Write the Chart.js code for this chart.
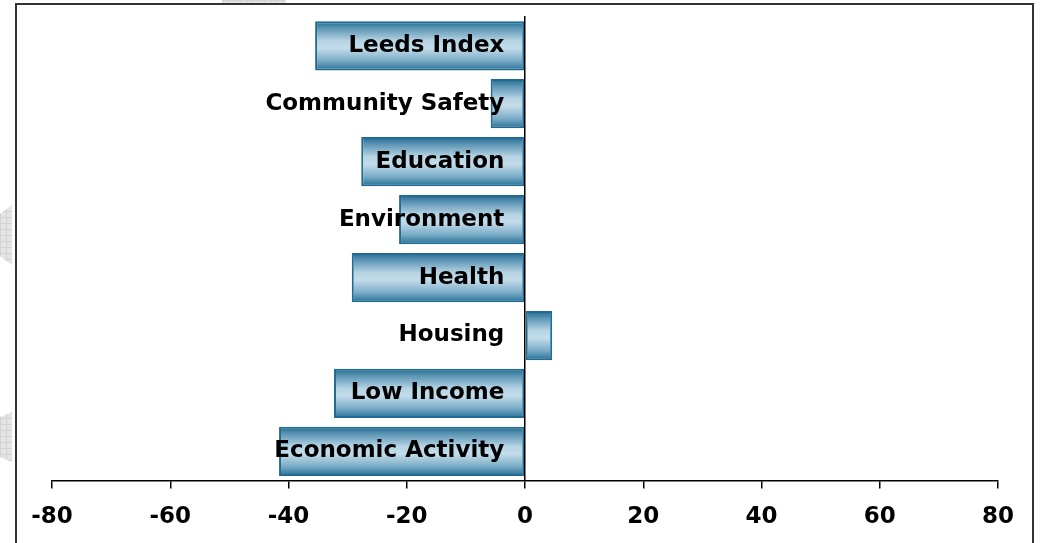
<!DOCTYPE html>
<html>
<head>
<meta charset="utf-8">
<script src="https://cdn.jsdelivr.net/npm/chart.js@4.4.1/dist/chart.umd.min.js"></script>
<style>
  html, body { margin: 0; padding: 0; background: #fff; }
  #wrap { position: relative; width: 1040px; height: 543px; overflow: hidden; }
  #frame {
    position: absolute; left: 15px; top: 3px; width: 1019px; height: 580px;
    border: 2px solid #333; box-sizing: border-box;
  }
  .deco {
    position: absolute; background: #e4e4e4;
    background-image: linear-gradient(#d2d2d2 1px, transparent 1px), linear-gradient(90deg, #d2d2d2 1px, transparent 1px);
    background-size: 6px 6px;
  }
  canvas { position: absolute; left: 0; top: 0; }
</style>
</head>
<body>
<div id="wrap">
  <div class="deco" style="left:0;top:205px;width:12px;height:60px;clip-path:polygon(0 15%,100% 0,100% 100%,0 85%);"></div>
  <div class="deco" style="left:0;top:412px;width:12px;height:50px;clip-path:polygon(0 10%,100% 0,100% 100%,0 90%);"></div>
  <div class="deco" style="left:222px;top:0;width:64px;height:3px;"></div>
  <div id="frame"></div>
  <canvas id="chart" width="1040" height="543"></canvas>
</div>
<script>
const CATEGORIES = [
  "Leeds Index", "Community Safety", "Education", "Environment",
  "Health", "Housing", "Low Income", "Economic Activity",
];
const VALUES = [-35.5, -5.8, -27.7, -21.3, -29.3, 4.6, -32.3, -41.6];
const X_MIN = -80;
const X_MAX = 80;
const X_STEP = 20;

const FONT = "'DejaVu Sans', Verdana, sans-serif";
const BAR_EDGE = "#1f6b91";
const CAT_PCT = 0.85;

// vertical "tube" shading for each bar, built from the bar's own band on the y scale
function barGradient(ctx) {
  const chart = ctx.chart;
  const y = chart.scales.y;
  if (!y || !chart.chartArea) return "#9cc3d8";
  const band = (y.bottom - y.top) / CATEGORIES.length;
  const mid = y.getPixelForValue(ctx.dataIndex);
  const half = band * CAT_PCT / 2;
  const g = chart.ctx.createLinearGradient(0, mid - half, 0, mid + half);
  g.addColorStop(0, "#1f688e");
  g.addColorStop(0.14, "#5a93b3");
  g.addColorStop(0.4, "#b6d4e4");
  g.addColorStop(0.55, "#c3dcea");
  g.addColorStop(0.8, "#7badc7");
  g.addColorStop(1, "#266e94");
  return g;
}

new Chart(document.getElementById("chart"), {
  type: "bar",
  data: {
    labels: CATEGORIES,
    datasets: [{
      data: VALUES,
      backgroundColor: barGradient,
      borderColor: BAR_EDGE,
      borderWidth: 2,
      borderSkipped: false,
      categoryPercentage: CAT_PCT,
      barPercentage: 1,
    }],
  },
  options: {
    indexAxis: "y",
    responsive: false,
    animation: false,
    layout: { padding: { left: 52, right: 42, top: 0, bottom: -3 } },
    scales: {
      x: {
        type: "linear",
        min: X_MIN,
        max: X_MAX,
        ticks: {
          stepSize: X_STEP,
          color: "#000",
          padding: 15,
          font: { family: FONT, size: 23, weight: "bold" },
        },
        grid: { drawOnChartArea: false, drawTicks: true, tickLength: 8, color: "#000", lineWidth: 1.5 },
        border: { color: "#000", width: 1.5 },
      },
      y: {
        position: { x: 0 },
        ticks: {
          z: 2,
          color: "#000",
          font: { family: FONT, size: 23, weight: "bold" },
          // axis sits on zero, so keep a gap between the label and the zero line
          callback: (v, i) => CATEGORIES[i] + "\u2002\u2009\u2009",
        },
        grid: { display: false, drawTicks: false },
        border: { color: "#000", width: 1.5, z: 1 },
      },
    },
    plugins: {
      legend: { display: false },
      tooltip: { enabled: false },
    },
  },
});
</script>
</body>
</html>
